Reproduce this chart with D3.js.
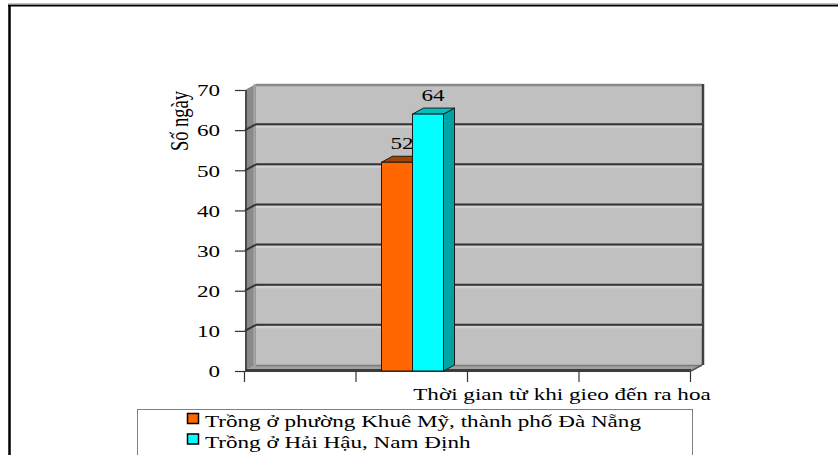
<!DOCTYPE html>
<html>
<head>
<meta charset="utf-8">
<script src="https://cdn.jsdelivr.net/npm/d3@7"></script>
<style>
  html, body { margin: 0; padding: 0; background: #fff; overflow: hidden; }
  svg { display: block; }
  svg text { font-family: "Times New Roman", "Liberation Serif", Tinos, "DejaVu Serif", serif !important; font-size: 17px; fill: #000; }
</style>
</head>
<body>
<svg id="chart" width="838" height="455"></svg>
<script>
// Data
const categories = ["Thời gian từ khi gieo đến ra hoa"];
const seriesNames = ["Trồng ở phường Khuê Mỹ, thành phố Đà Nẵng", "Trồng ở Hải Hậu, Nam Định"];
const seriesValues = [52, 64];
const seriesColors = ["#ff6600", "#00ffff"];
const seriesTopColors = ["#a84200", "#00c0c0"];
const seriesSideColors = ["#a04000", "#00a4a4"];
const yTicks = [0, 10, 20, 30, 40, 50, 60, 70];
const slotCount = 4;        // category slots on the x axis
const categorySlot = 1;     // slot that holds the category

const yTitle = "Số ngày";

// Layout
const SX = 1.36;            // horizontal text stretch
const DX = 11, DY = -6;     // 3D depth offset
const svg = d3.select("#chart");

const y = d3.scaleLinear().domain([0, 70]).range([371, 90]);
const xSlot = d3.scaleLinear().domain([0, slotCount]).range([244, 690]);
const xSeries = d3.scaleBand()
  .domain(seriesNames)
  .range([xSlot(categorySlot) + 26, xSlot(categorySlot) + 88]);

const wallL = xSlot(0) + 1;          // front-left corner of the side wall
const wallR = 702;                   // back wall right edge
const floorFrontR = wallR - DX;

// Outer frame
svg.append("line").attr("x1", 9.5).attr("x2", 9.5).attr("y1", 5).attr("y2", 455)
  .attr("stroke", "#000").attr("stroke-width", 2.5);
svg.append("line").attr("x1", 8).attr("x2", 838).attr("y1", 5.5).attr("y2", 5.5)
  .attr("stroke", "#000").attr("stroke-width", 2);
svg.append("line").attr("x1", 8).attr("x2", 838).attr("y1", 3.8).attr("y2", 3.8)
  .attr("stroke", "#aaa").attr("stroke-width", 1);

const plot = svg.append("g");

// Back wall
plot.append("rect")
  .attr("x", wallL + DX).attr("y", y(70) + DY)
  .attr("width", wallR - wallL - DX).attr("height", y(0) - y(70))
  .attr("fill", "#c0c0c0");
plot.append("line")
  .attr("x1", wallL + DX).attr("x2", wallR).attr("y1", y(70) + DY + 1).attr("y2", y(70) + DY + 1)
  .attr("stroke", "#8a8a8a").attr("stroke-width", 2.5);
plot.append("line")
  .attr("x1", wallR + 1).attr("x2", wallR + 1).attr("y1", y(70) + DY).attr("y2", y(0) + DY)
  .attr("stroke", "#404040").attr("stroke-width", 2.5);

// Side wall
plot.append("path")
  .attr("d", `M${wallL},${y(0)} L${wallL},${y(70)} L${wallL + DX},${y(70) + DY} L${wallL + DX},${y(0) + DY} Z`)
  .attr("fill", "#8a8a8a");
plot.append("line")
  .attr("x1", wallL + DX - 1.5).attr("x2", wallL + DX - 1.5).attr("y1", y(70) + DY).attr("y2", y(0) + DY)
  .attr("stroke", "#a8a8a8").attr("stroke-width", 2);
plot.append("line")
  .attr("x1", wallL + 1).attr("x2", wallL + 1).attr("y1", y(70)).attr("y2", y(0))
  .attr("stroke", "#4a4a4a").attr("stroke-width", 2);

// Gridlines (back wall + side wall)
const grid = yTicks.filter(v => v > 0 && v < 70);
plot.selectAll(".grid-hi").data(grid).join("line")
  .attr("x1", wallL + DX).attr("x2", wallR)
  .attr("y1", d => y(d) + DY + 2.5).attr("y2", d => y(d) + DY + 2.5)
  .attr("stroke", "#d2d2d2").attr("stroke-width", 2);
plot.selectAll(".grid").data(grid).join("line")
  .attr("x1", wallL + DX).attr("x2", wallR)
  .attr("y1", d => y(d) + DY).attr("y2", d => y(d) + DY)
  .attr("stroke", "#333").attr("stroke-width", 2);
plot.selectAll(".grid-side").data(grid).join("line")
  .attr("x1", wallL).attr("x2", wallL + DX)
  .attr("y1", d => y(d)).attr("y2", d => y(d) + DY)
  .attr("stroke", "#333").attr("stroke-width", 2);

// Floor
plot.append("path")
  .attr("d", `M${wallL},${y(0)} L${wallL + DX},${y(0) + DY} L${wallR},${y(0) + DY} L${floorFrontR},${y(0)} Z`)
  .attr("fill", "#a0a0a0");
plot.append("line")
  .attr("x1", wallL + DX).attr("x2", wallR).attr("y1", y(0) + DY + 0.5).attr("y2", y(0) + DY + 0.5)
  .attr("stroke", "#7a7a7a").attr("stroke-width", 1.5);
plot.append("line")
  .attr("x1", wallL).attr("x2", floorFrontR).attr("y1", y(0) - 0.5).attr("y2", y(0) - 0.5)
  .attr("stroke", "#3c3c3c").attr("stroke-width", 3);
plot.append("line")
  .attr("x1", floorFrontR).attr("x2", wallR).attr("y1", y(0)).attr("y2", y(0) + DY)
  .attr("stroke", "#555").attr("stroke-width", 1.5);

// Bars (3D boxes)
const bars = plot.selectAll(".bar").data(seriesValues.map((v, i) => ({ v, i, name: seriesNames[i] })))
  .join("g").attr("class", "bar");

bars.each(function (d) {
  const g = d3.select(this);
  const x0 = xSeries(d.name), x1 = x0 + xSeries.bandwidth();
  const yt = y(d.v), yb = y(0);
  // side face
  g.append("path")
    .attr("d", `M${x1},${yt} L${x1 + DX},${yt + DY} L${x1 + DX},${yb + DY} L${x1},${yb} Z`)
    .attr("fill", seriesSideColors[d.i]).attr("stroke", "#1a1a1a").attr("stroke-width", 1);
  // top face
  g.append("path")
    .attr("d", `M${x0},${yt} L${x0 + DX},${yt + DY} L${x1 + DX},${yt + DY} L${x1},${yt} Z`)
    .attr("fill", seriesTopColors[d.i]).attr("stroke", "#1a1a1a").attr("stroke-width", 1);
  // front face
  g.append("rect")
    .attr("x", x0).attr("y", yt).attr("width", x1 - x0).attr("height", yb - yt)
    .attr("fill", seriesColors[d.i]).attr("stroke", "#1a1a1a").attr("stroke-width", 1);
});

// Value labels
svg.selectAll(".val").data(seriesValues).join("text")
  .attr("text-anchor", "middle")
  .attr("transform", (d, i) => `translate(${xSeries(seriesNames[i]) + xSeries.bandwidth() / 2 + 5},${y(d) + DY - 7}) scale(${SX},1)`)
  .text(d => d);

// Y axis
const yAxis = svg.append("g")
  .attr("transform", `translate(${wallL},0)`)
  .call(d3.axisLeft(y).tickValues(yTicks).tickSize(10).tickPadding(0));
yAxis.attr("font-family", null).attr("font-size", null);
yAxis.select(".domain").remove();
yAxis.selectAll(".tick line").attr("stroke", "#333").attr("stroke-width", 1.2);
yAxis.selectAll(".tick text")
  .attr("x", -25 / SX).attr("dy", "0.34em")
  .attr("transform", `scale(${SX},1)`)
  .attr("fill", "#000");

// X axis
const xAxis = svg.append("g")
  .attr("transform", `translate(0,${y(0) + 1})`)
  .call(d3.axisBottom(xSlot).tickValues(d3.range(slotCount + 1)).tickSize(10).tickFormat(""));
xAxis.select(".domain").remove();
xAxis.selectAll(".tick line").attr("stroke", "#333").attr("stroke-width", 1.2);

// Category label
svg.append("text")
  .attr("text-anchor", "middle")
  .attr("transform", `translate(562,400) scale(${SX},1)`)
  .text(categories[0]);

// Y axis title
svg.append("text")
  .attr("text-anchor", "middle")
  .attr("transform", `translate(188,121) scale(${SX},1) rotate(-90)`)
  .style("font-size", "18.5px")
  .text(yTitle);

// Legend
const legend = svg.append("g");
legend.append("rect")
  .attr("x", 137.5).attr("y", 409.5).attr("width", 555).attr("height", 80)
  .attr("fill", "#fff").attr("stroke", "#808080").attr("stroke-width", 1);
const items = legend.selectAll(".item").data(seriesNames).join("g")
  .attr("transform", (d, i) => `translate(0,${i * 20.5})`);
items.append("rect")
  .attr("x", 187.5).attr("y", 413.5).attr("width", 11).attr("height", 10)
  .attr("fill", (d, i) => seriesColors[i]).attr("stroke", "#000").attr("stroke-width", 1.5);
items.append("text")
  .attr("transform", `translate(205,427) scale(${SX},1)`)
  .text(d => d);
</script>
</body>
</html>
